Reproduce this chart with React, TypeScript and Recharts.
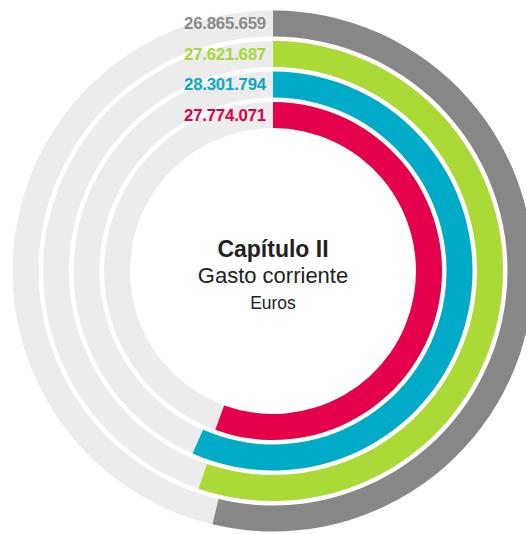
import { Cell, LabelList, PolarAngleAxis, PolarRadiusAxis, RadialBar, RadialBarChart } from "recharts";

// rings listed from the innermost to the outermost
const RINGS = ["Serie 4", "Serie 3", "Serie 2", "Serie 1"];
const AMOUNTS = [27774071, 28301794, 27621687, 26865659];
const SCALE_MAX = 50000000;

const BAR_COLORS = ["#e4004b", "#00abc7", "#abd936", "#878787"];
const TEXT_COLORS = ["#dc004a", "#0ba7c4", "#a8d738", "#8a8a8a"];
const TRACK = "#ececec";

const TITLE = "Capítulo II";
const SUBTITLE = "Gasto corriente";
const UNIT = "Euros";

const data = RINGS.map((name, i) => ({ name, value: AMOUNTS[i] }));

const formatEs = (n: number) => String(n).replace(/\B(?=(\d{3})+(?!\d))/g, ".");

const FONT = "'Liberation Sans', Arial, Helvetica, sans-serif";

function ValueLabel(props: any) {
  const { viewBox, value, index } = props;
  if (!viewBox) return null;
  const { cx, cy, innerRadius, outerRadius } = viewBox;
  const r = (innerRadius + outerRadius) / 2;
  return (
    <text
      x={cx - 7}
      y={cy - r}
      textAnchor="end"
      dominantBaseline="central"
      fill={TEXT_COLORS[index]}
      fontFamily={FONT}
      fontWeight="bold"
      fontSize={16.8}
      letterSpacing={-0.2}
    >
      {formatEs(Number(value))}
    </text>
  );
}

export default function App() {
  const cx = 273;
  const cy = 271;
  return (
    <div style={{ position: "absolute", left: 0, top: 0, width: 526, height: 534, background: "#fff" }}>
      <RadialBarChart
        width={526}
        height={534}
        cx={cx}
        cy={cy}
        innerRadius={141}
        outerRadius={263}
        startAngle={90}
        endAngle={-270}
        barSize={26}
        data={data}
        margin={{ top: 0, right: 0, bottom: 0, left: 0 }}
      >
        <PolarAngleAxis type="number" domain={[0, SCALE_MAX]} tick={false} axisLine={false} />
        <PolarRadiusAxis type="category" dataKey="name" tick={false} axisLine={false} />
        <RadialBar dataKey="value" background={{ fill: TRACK }} isAnimationActive={false}>
          {data.map((d, i) => (
            <Cell key={d.name} fill={BAR_COLORS[i]} />
          ))}
          <LabelList dataKey="value" content={ValueLabel} />
        </RadialBar>
        <text x={cx} y={257} textAnchor="middle" fontFamily={FONT} fontWeight="bold" fontSize={23} fill="#222">
          {TITLE}
        </text>
        <text x={cx} y={283} textAnchor="middle" fontFamily={FONT} fontSize={22} fill="#222">
          {SUBTITLE}
        </text>
        <text x={cx} y={309} textAnchor="middle" fontFamily={FONT} fontSize={17.5} fill="#222">
          {UNIT}
        </text>
      </RadialBarChart>
    </div>
  );
}
